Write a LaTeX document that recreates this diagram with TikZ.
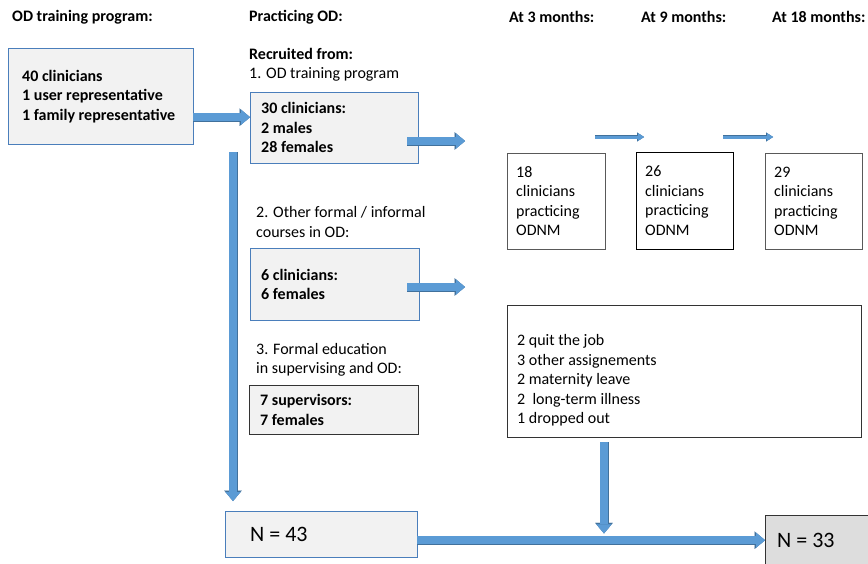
\documentclass[tikz,border=0pt]{standalone}
\usepackage{fontspec}
\setmainfont{Carlito}
\usetikzlibrary{positioning, calc, arrows.meta}
\definecolor{boxgray}{HTML}{F2F2F2}
\definecolor{boxdark}{HTML}{DDDDDD}
\definecolor{boxblue}{HTML}{4A7EBB}
\definecolor{arrowfill}{HTML}{5B9BD5}
\definecolor{arrowline}{HTML}{41719C}
\newcommand\bodysize{\fontsize{16}{19.5}\selectfont}
\tikzset{
    head/.style={font=\bodysize\bfseries, anchor=west, inner sep=0pt},
    plain/.style={font=\bodysize, anchor=west, inner sep=0pt, align=left},
    graybox/.style={draw=boxblue, fill=boxgray, anchor=north west, align=flush left, inner ysep=0pt, font=\bodysize\bfseries},
    whitebox/.style={draw=black!65, fill=white, anchor=north west, align=flush left, inner ysep=0pt, font=\bodysize},
    fat/.style={line width=7.5pt, draw=arrowfill, -{Triangle[length=9pt, width=15pt, line width=0.1pt]},
        preaction={draw=arrowline, line width=9pt, -{Triangle[length=10.5pt, width=17.5pt, line width=0.1pt]}}},
    slim/.style={line width=3pt, draw=arrowfill, -{Triangle[length=6pt, width=7.5pt, line width=0.1pt]},
        preaction={draw=arrowline, line width=4pt, -{Triangle[length=7pt, width=9pt, line width=0.1pt]}}}
}
\begin{document}
\begin{tikzpicture}[x=1pt, y=-1pt]
	\useasboundingbox (0,0) rectangle (868,563);
	% column headings
	\node(hTrain)[head] at (12,17) {OD training program:};
	\node(hPract)[head] at (249,17) {Practicing OD:};
	\node(hThree)[head] at (509,17) {At 3 months:};
	\node(hNine)[head] at (641,17) {At 9 months:};
	\node(hEighteen)[head] at (772,17) {At 18 months:};
	% training program
	\node(Train)[graybox, text width=157pt, inner xsep=14pt, minimum height=96pt] at (8,48) {40 clinicians\\1 user representative\\1 family representative};
	% recruitment sources
	\node(Recr)[head] at (249,54) {Recruited from:};
	\node(SrcOne)[plain] at (249,74) {1. OD training program};
	\node(Program)[graybox, text width=146pt, inner xsep=11pt, minimum height=71pt] at (250,92) {30 clinicians:\\2 males\\28 females};
	\node(SrcTwo)[plain] at (256,222) {2. Other formal / informal\\courses in OD:};
	\node(Courses)[graybox, text width=147pt, inner xsep=11pt, minimum height=72pt] at (250,248) {6 clinicians:\\6 females};
	\node(SrcThree)[plain] at (256,360) {3. Formal education\\in supervising and OD:};
	\node(Superv)[graybox, draw=black!80, text width=147pt, inner xsep=11pt, minimum height=49pt] at (249,385) {7 supervisors:\\7 females};
	% follow-up
	\node(Three)[whitebox, text width=80pt, inner xsep=9pt, minimum height=96pt] at (507,153) {18\\clinicians\\practicing\\ODNM};
	\node(Nine)[whitebox, draw=black, text width=79pt, inner xsep=9pt, minimum height=97pt] at (636,152) {26\\clinicians\\practicing\\ODNM};
	\node(Eighteen)[whitebox, text width=79pt, inner xsep=9pt, minimum height=96pt] at (765,153) {29\\clinicians\\practicing\\ODNM};
	\node(Lost)[whitebox, draw=black!80, text width=334pt, inner xsep=10pt, minimum height=132pt] at (507,305) {\mbox{}\\[10pt]2 quit the job\\3 other assignements\\2 maternity leave\\2~ long-term illness\\1 dropped out};
	% totals
	\node(Start)[graybox, font=\fontsize{22}{26}\selectfont, text width=142pt, inner xsep=25pt, minimum height=46pt] at (225,511) {N = 43};
	\node(End)[graybox, draw=black!80, fill=boxdark, font=\fontsize{22}{26}\selectfont, text width=100pt, inner xsep=12pt, minimum height=50pt] at (765,515) {N = 33};
	% arrows
	\coordinate(GoOne) at (465,141);
	\coordinate(GoTwo) at (465,287);
	\coordinate(Split) at (233,152);
	\draw[fat]([yshift=-21pt]Train.east)--([yshift=-21pt]Train.east -| Program.west);
	\draw[fat]($(Program.east |- GoOne)+(-11,0)$)--(GoOne);
	\draw[fat]($(Courses.east |- GoTwo)+(-12,0)$)--(GoTwo);
	\draw[fat](Split)--($(Split |- Start.north)+(0,-10)$);
	\draw[slim]($(Three.north east)+(-10,-16)$)--($(Nine.north west)+(8,-15)$);
	\draw[slim]($(Nine.north east)+(-10,-15)$)--($(Eighteen.north west)+(8,-16)$);
	\draw[fat]($(Lost.south west)+(97,5)$)--($(Lost.south west)+(97,96)$);
	\draw[fat](Start.east |- End.west)--(End.west);
\end{tikzpicture}
\end{document}
